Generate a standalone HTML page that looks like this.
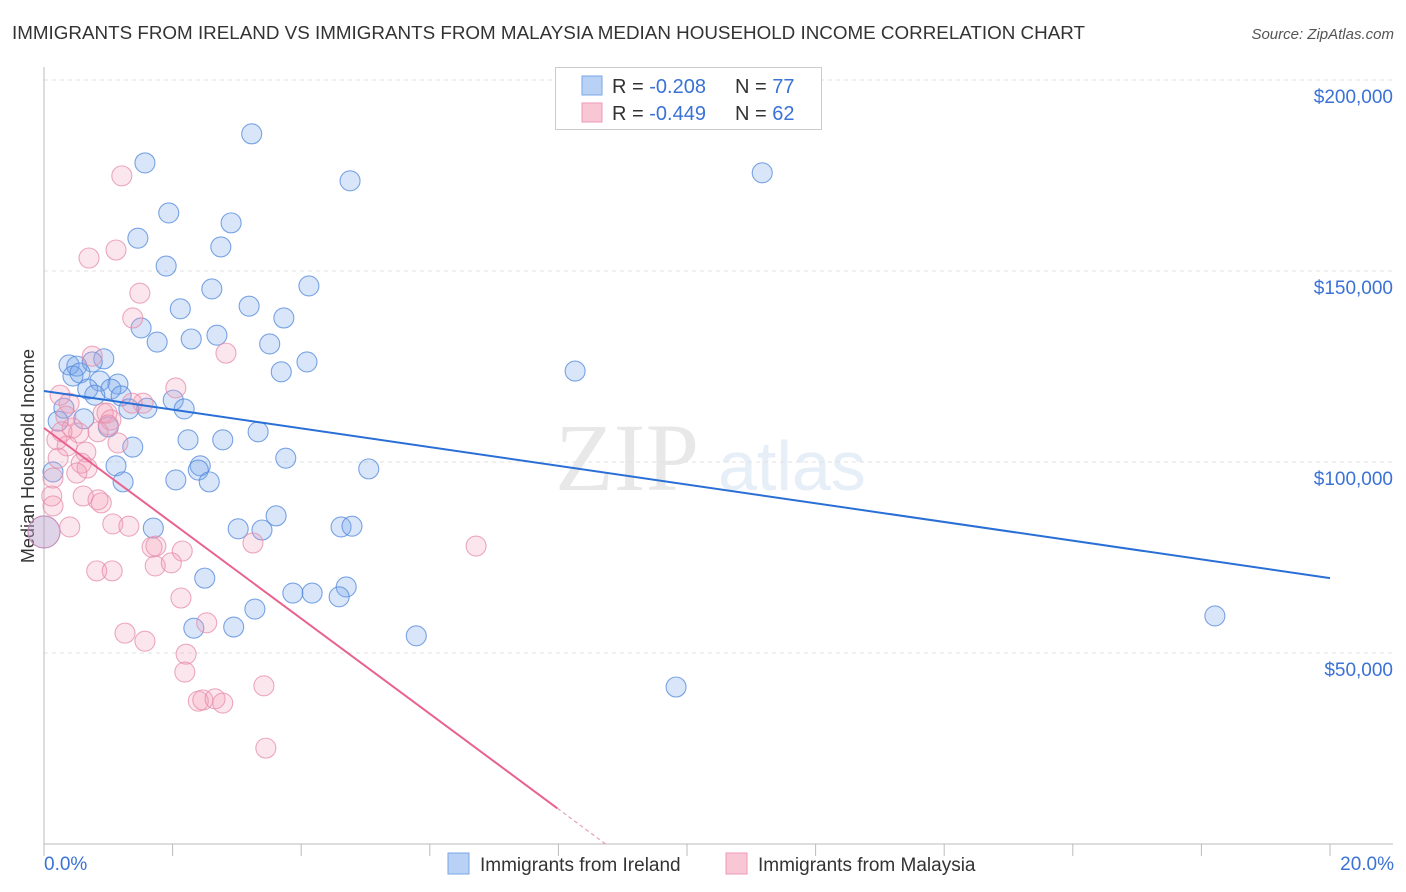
<!DOCTYPE html>
<html><head><meta charset="utf-8">
<style>
body{margin:0;background:#fff;font-family:"Liberation Sans",sans-serif;}
svg{display:block}
</style></head>
<body>
<svg id="chart" width="1406" height="892" viewBox="0 0 1406 892" xmlns="http://www.w3.org/2000/svg" font-family="Liberation Sans, sans-serif">
<text x="12" y="39" font-size="18" fill="#333" textLength="1073" lengthAdjust="spacingAndGlyphs">IMMIGRANTS FROM IRELAND VS IMMIGRANTS FROM MALAYSIA MEDIAN HOUSEHOLD INCOME CORRELATION CHART</text>
<text x="1394" y="39" font-size="15" fill="#555" font-style="italic" text-anchor="end">Source: ZipAtlas.com</text>
<text transform="translate(34,456) rotate(-90)" font-size="18" fill="#333" text-anchor="middle">Median Household Income</text>
<g opacity="0.13">
<text x="555" y="490" font-size="96" font-family="Liberation Serif, serif" fill="#555">ZIP</text>
<text x="718" y="490" font-size="70" fill="#4a7fd0">atlas</text>
</g>
<g id="grid"></g>
<g id="axes"></g>
<g id="points"></g>
<g id="trends"></g>
<g>
<rect x="555.5" y="67.5" width="266" height="62" fill="#fff" stroke="#ccc"/>
<rect x="582" y="76" width="20" height="19" fill="#b8d1f5" stroke="#7aa6e6"/>
<rect x="582" y="103" width="20" height="19" fill="#f9c6d5" stroke="#ee9ab5"/>
<text x="612" y="93" font-size="20" fill="#333">R = <tspan fill="#3a72d6">-0.208</tspan></text>
<text x="735" y="93" font-size="20" fill="#333">N = <tspan fill="#3a72d6">77</tspan></text>
<text x="612" y="120" font-size="20" fill="#333">R = <tspan fill="#3a72d6">-0.449</tspan></text>
<text x="735" y="120" font-size="20" fill="#333">N = <tspan fill="#3a72d6">62</tspan></text>
</g>
<g>
<rect x="448" y="853" width="21" height="21" fill="#b8d1f5" stroke="#7aa6e6"/>
<text x="480" y="871" font-size="19" fill="#333">Immigrants from Ireland</text>
<rect x="726" y="853" width="21" height="21" fill="#f9c6d5" stroke="#ee9ab5"/>
<text x="758" y="871" font-size="19" fill="#333">Immigrants from Malaysia</text>
</g>
</svg>
<script>
const yTicks=[50000,100000,150000,200000];
const yTickLabels=["$50,000","$100,000","$150,000","$200,000"];
const xTickCount=10;
const xEndLabels=["0.0%","20.0%"];
const irelandX=[3.23,1.57,4.76,11.17,1.94,2.91,1.46,2.75,1.90,2.61,4.12,3.19,2.12,3.73,1.51,2.69,1.76,2.29,3.51,0.39,0.51,0.93,0.75,4.09,3.69,8.26,0.45,0.56,0.87,1.15,1.04,0.68,0.79,1.20,0.31,1.60,2.01,2.18,1.32,0.62,0.22,1.00,3.33,2.24,2.78,1.38,3.76,2.43,2.40,1.12,2.05,2.57,1.23,5.05,0.14,3.61,1.70,3.02,3.39,4.62,4.79,2.50,4.70,3.87,4.17,4.59,3.28,2.33,2.95,5.79,9.83,18.21,0.0];
const irelandY=[185.9,178.3,173.6,175.7,165.2,162.6,158.6,156.3,151.3,145.3,146.1,140.8,140.1,137.7,135.1,133.2,131.4,132.2,130.9,125.4,125.1,127.0,126.2,126.2,123.6,123.8,122.5,123.3,121.2,120.4,119.1,119.1,117.5,117.3,114.1,114.1,116.2,113.9,113.9,111.3,110.7,109.2,107.9,105.8,105.8,103.9,101.0,99.0,97.9,99.0,95.3,94.8,94.8,98.2,97.4,85.9,82.7,82.5,82.2,83.0,83.2,69.6,67.3,65.7,65.7,64.7,61.5,56.5,56.8,54.5,41.1,59.7,81.7];
const malaysiaX=[1.21,0.70,1.12,1.49,1.38,2.83,0.75,2.05,0.25,1.54,1.37,0.92,0.98,1.04,0.39,0.34,0.20,0.44,0.54,0.84,1.00,1.15,0.36,0.65,0.22,0.58,0.67,0.51,0.14,0.12,0.14,0.61,0.84,0.89,0.40,1.07,1.32,3.25,1.68,1.74,2.15,1.73,1.98,0.82,1.06,6.72,2.13,2.53,1.26,1.57,2.21,2.19,3.42,2.40,2.47,2.66,2.78,3.45,0.28,0.0];
const malaysiaY=[174.9,153.4,155.5,144.2,137.7,128.5,127.7,119.4,117.5,115.4,115.4,112.8,112.8,111.0,115.4,112.0,105.8,108.9,107.6,107.9,109.7,105.0,104.2,102.6,101.0,99.7,98.4,97.1,95.8,91.1,88.5,91.1,90.1,89.3,83.0,83.8,83.2,78.8,77.7,78.0,76.7,72.8,73.6,71.5,71.5,78.0,64.4,57.9,55.2,53.1,49.7,45.0,41.4,37.4,37.7,38.0,36.9,25.1,107.9,81.7];
const irelandTrend=[118.6,69.6];
const malaysiaTrend=[108.9,-12.47];

const NS="http://www.w3.org/2000/svg";
const X0=44,X1=1330,Y0=844,Ypx50k=191;
const sx=v=>X0+(v/20)*(X1-X0);
const sy=v=>Y0-(v/50000)*Ypx50k;
function mk(tag,attrs,parent){const e=document.createElementNS(NS,tag);for(const k in attrs)e.setAttribute(k,attrs[k]);parent.appendChild(e);return e;}
const grid=document.getElementById('grid'),axes=document.getElementById('axes'),pts=document.getElementById('points'),tr=document.getElementById('trends');
yTicks.forEach((t,i)=>{
 const l=mk('line',{x1:X0,x2:1393,y1:sy(t),y2:sy(t),stroke:'#e2e2e2','stroke-dasharray':'4,4'},grid);
 
 
 const tx=mk('text',{x:1393,y:sy(t)+23,'font-size':19,fill:'#3a72d6','text-anchor':'end'},axes);
 tx.textContent=yTickLabels[i];
 
 
});
const al=mk('line',{x1:X0,x2:X0,y1:67,y2:Y0,stroke:'#bbb'},axes);


const bl=mk('line',{x1:X0,x2:1393,y1:Y0,y2:Y0,stroke:'#bbb'},axes);


for(let i=0;i<=xTickCount;i++){
 const x=sx(i*20/xTickCount);
 const t=mk('line',{x1:x,x2:x,y1:Y0,y2:Y0+12,stroke:'#bbb'},axes);
 
 
}
const xl0=mk('text',{x:44,y:870,'font-size':19,fill:'#3a72d6'},axes);xl0.textContent=xEndLabels[0];


const xl1=mk('text',{x:1394,y:870,'font-size':19,fill:'#3a72d6','text-anchor':'end'},axes);xl1.textContent=xEndLabels[1];


function drawSeries(xs,ys,fill,stroke,name){
 xs.forEach((v,i)=>{
  const r=(v===0)?16:10;
  const c=mk('circle',{cx:sx(v),cy:sy(ys[i]*1000),r:r,fill:fill,stroke:stroke,'stroke-width':1.1},pts);
  
  
 });
}
drawSeries(irelandX,irelandY,'rgba(120,165,235,0.28)','rgba(80,135,220,0.75)','ireland-point');
drawSeries(malaysiaX,malaysiaY,'rgba(245,155,185,0.25)','rgba(230,140,170,0.75)','malaysia-point');
const bt=mk('line',{x1:sx(0),y1:sy(irelandTrend[0]*1000),x2:sx(20),y2:sy(irelandTrend[1]*1000),stroke:'#2a6fd6','stroke-width':2},tr);


const mz=-malaysiaTrend[0]/malaysiaTrend[1];
const ms=mz-0.75;
const pt=mk('line',{x1:sx(0),y1:sy(malaysiaTrend[0]*1000),x2:sx(ms),y2:sy((malaysiaTrend[0]+malaysiaTrend[1]*ms)*1000),stroke:'#e8628f','stroke-width':2},tr);


const pd=mk('line',{x1:sx(ms),y1:sy((malaysiaTrend[0]+malaysiaTrend[1]*ms)*1000),x2:sx(mz),y2:sy(0),stroke:'#e8a0b8','stroke-width':1.2,'stroke-dasharray':'4,3'},tr);


</script>
</body></html>
